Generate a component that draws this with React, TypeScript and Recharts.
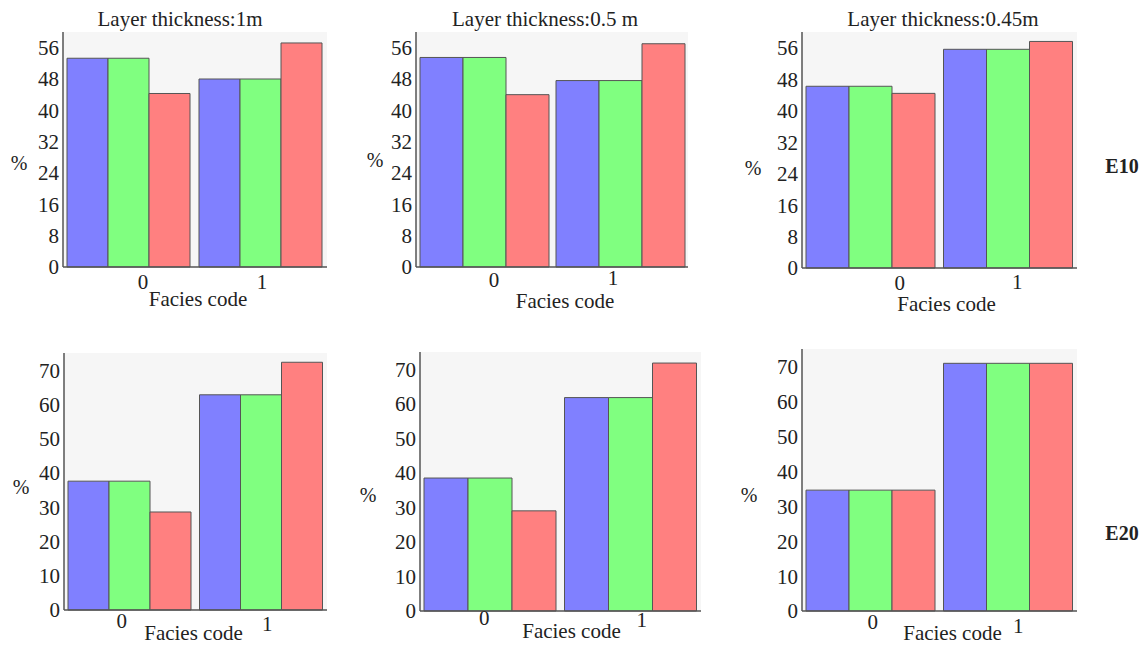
import React from 'react';
import { BarChart, Bar, XAxis, YAxis, CartesianGrid } from 'recharts';

const CATEGORIES = ['0', '1'];

// E10 row, values in %
const E10_1M_BLUE = [53.3, 48.0];
const E10_1M_GREEN = [53.3, 48.0];
const E10_1M_RED = [44.3, 57.2];

const E10_05M_BLUE = [53.5, 47.6];
const E10_05M_GREEN = [53.5, 47.6];
const E10_05M_RED = [44.0, 57.0];

const E10_045M_BLUE = [46.2, 55.6];
const E10_045M_GREEN = [46.2, 55.6];
const E10_045M_RED = [44.4, 57.6];

// E20 row
const E20_1M_BLUE = [37.6, 62.8];
const E20_1M_GREEN = [37.6, 62.8];
const E20_1M_RED = [28.6, 72.3];

const E20_05M_BLUE = [38.5, 61.8];
const E20_05M_GREEN = [38.5, 61.8];
const E20_05M_RED = [29.0, 71.8];

const E20_045M_BLUE = [34.6, 70.9];
const E20_045M_GREEN = [34.6, 70.9];
const E20_045M_RED = [34.6, 70.9];

const TICKS_E10 = [0, 8, 16, 24, 32, 40, 48, 56];
const TICKS_E20 = [0, 10, 20, 30, 40, 50, 60, 70];

const TITLES = ['Layer thickness:1m', 'Layer thickness:0.5 m', 'Layer thickness:0.45m'];

const FONT = 'Liberation Serif, Tinos, DejaVu Serif, Noto Serif, serif';
const BLUE = '#8080ff';
const GREEN = '#80ff80';
const RED = '#ff8080';

const YW = 62; // y axis width
const MT = 30; // top margin
const XH = 48; // x axis height

const buildRows = (blue: number[], green: number[], red: number[]) =>
  CATEGORIES.map((name, i) => ({ name, blue: blue[i], green: green[i], red: red[i] }));

// box = plot frame in page pixels; tickOffs per category [dx, dy]; pct/fc label offsets
const PANELS = [
  { box: [63, 32, 327, 267], rows: buildRows(E10_1M_BLUE, E10_1M_GREEN, E10_1M_RED), max: 60, ticks: TICKS_E10,
    tickOffs: [[14, 15], [1, 15]], pct: [-44, 131], fc: [3, 32] },
  { box: [416, 32, 688, 267], rows: buildRows(E10_05M_BLUE, E10_05M_GREEN, E10_05M_RED), max: 60, ticks: TICKS_E10,
    tickOffs: [[10, 13], [-7, 11]], pct: [-41, 128], fc: [13, 34] },
  { box: [802, 32, 1077, 268], rows: buildRows(E10_045M_BLUE, E10_045M_GREEN, E10_045M_RED), max: 60, ticks: TICKS_E10,
    tickOffs: [[29, 15], [9, 14]], pct: [-49, 136], fc: [7, 36] },
  { box: [64, 353, 327, 610], rows: buildRows(E20_1M_BLUE, E20_1M_GREEN, E20_1M_RED), max: 75, ticks: TICKS_E20,
    tickOffs: [[-8, 11], [6, 14]], pct: [-43, 134], fc: [-2, 23] },
  { box: [420, 352, 701, 611], rows: buildRows(E20_05M_BLUE, E20_05M_GREEN, E20_05M_RED), max: 75, ticks: TICKS_E20,
    tickOffs: [[-6, 7], [11, 9]], pct: [-52, 143], fc: [11, 20] },
  { box: [802, 349, 1077, 611], rows: buildRows(E20_045M_BLUE, E20_045M_GREEN, E20_045M_RED), max: 75, ticks: TICKS_E20,
    tickOffs: [[2, 11], [10, 15]], pct: [-53, 146], fc: [13, 22] },
];

const makeTick = (offs: number[][]) => (props: any) => {
  const { x, y, payload } = props;
  const idx = payload?.index ?? props.index ?? 0;
  const o = offs[idx] || [0, 16];
  return (
    <text x={x + o[0]} y={y + o[1]} textAnchor="middle" dominantBaseline="central"
      fontFamily={FONT} fontSize={21} fill="#222">
      {payload.value}
    </text>
  );
};

function Panel({ p }: { p: any }) {
  const [l, t, r, b] = p.box;
  const width = r - l + YW + 4;
  const height = b - t + MT + XH;
  return (
    <div style={{ position: 'absolute', left: l - YW, top: t - MT }}>
      <BarChart
        width={width}
        height={height}
        data={p.rows}
        margin={{ top: MT, right: 4, left: 0, bottom: 0 }}
        barCategoryGap={4}
        barGap={0}
      >
        <CartesianGrid fill="#f6f6f6" horizontal={false} vertical={false} />
        <XAxis
          dataKey="name"
          height={XH}
          tickSize={0}
          tickMargin={0}
          tickLine={false}
          axisLine={{ stroke: '#555', strokeWidth: 1.5 }}
          tick={makeTick(p.tickOffs)}
          label={(lp: any) => {
            const vb = lp.viewBox || { x: YW, y: height - XH, width: r - l };
            return (
              <text x={vb.x + vb.width / 2 + p.fc[0]} y={vb.y + p.fc[1]} textAnchor="middle"
                dominantBaseline="central" fontFamily={FONT} fontSize={21} fill="#222">
                Facies code
              </text>
            );
          }}
        />
        <XAxis xAxisId="top" orientation="top" dataKey="name" height={0} tick={false} tickLine={false}
          axisLine={{ stroke: '#777', strokeWidth: 1.5 }} />
        <YAxis
          width={YW}
          domain={[0, p.max]}
          ticks={p.ticks}
          interval={0}
          tickSize={0}
          tickMargin={4}
          tickLine={false}
          axisLine={{ stroke: '#555', strokeWidth: 1.5 }}
          tick={{ fontFamily: FONT, fontSize: 21, fill: '#222' }}
          label={(lp: any) => {
            const vb = lp.viewBox || { x: 0, y: MT, width: YW };
            return (
              <text x={vb.x + vb.width + p.pct[0]} y={vb.y + p.pct[1]} textAnchor="middle"
                dominantBaseline="central" fontFamily={FONT} fontSize={20} fill="#222">
                %
              </text>
            );
          }}
        />
        <YAxis yAxisId="right" orientation="right" width={0} domain={[0, 1]} tick={false} tickLine={false}
          axisLine={{ stroke: '#777', strokeWidth: 1.5 }} />
        <Bar dataKey="blue" fill={BLUE} stroke="#555" strokeWidth={1} isAnimationActive={false} />
        <Bar dataKey="green" fill={GREEN} stroke="#555" strokeWidth={1} isAnimationActive={false} />
        <Bar dataKey="red" fill={RED} stroke="#555" strokeWidth={1} isAnimationActive={false} />
      </BarChart>
    </div>
  );
}

const textStyle = (x: number, y: number, size: number, bold = false): React.CSSProperties => ({
  position: 'absolute',
  left: x,
  top: y,
  transform: 'translate(-50%, -50%)',
  fontFamily: FONT,
  fontSize: size,
  fontWeight: bold ? 700 : 400,
  color: '#222',
  whiteSpace: 'nowrap',
});

export default function App() {
  return (
    <div style={{ position: 'absolute', left: 0, top: 0, width: 1148, height: 645, overflow: 'hidden', background: '#fff' }}>
      {PANELS.map((p, i) => (
        <Panel key={i} p={p} />
      ))}
      <div style={textStyle(180, 19, 21)}>{TITLES[0]}</div>
      <div style={textStyle(545, 19, 21)}>{TITLES[1]}</div>
      <div style={textStyle(943, 19, 21)}>{TITLES[2]}</div>
      <div style={textStyle(1122, 166, 20, true)}>E10</div>
      <div style={textStyle(1122, 533, 20, true)}>E20</div>
    </div>
  );
}
